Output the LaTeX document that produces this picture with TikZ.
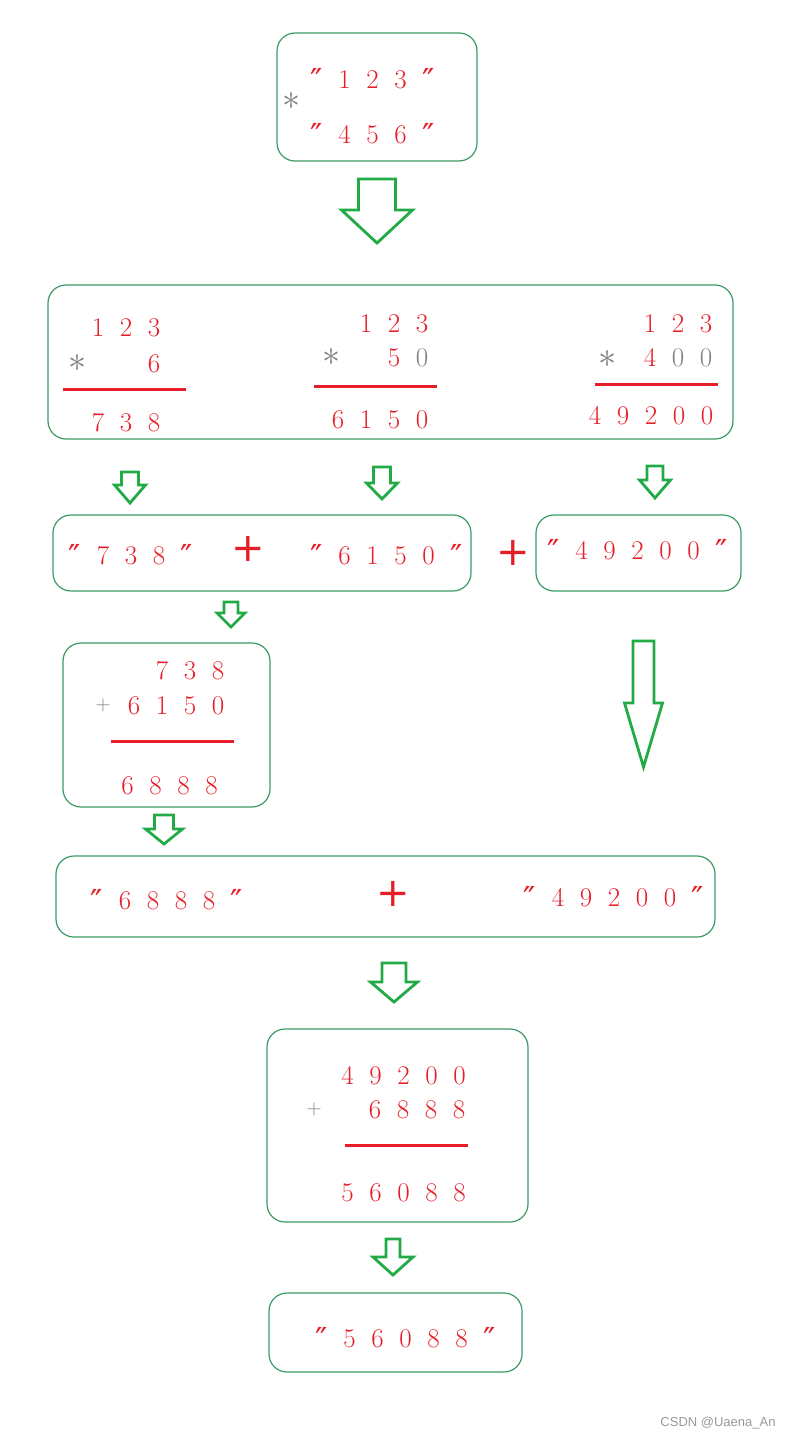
\documentclass[tikz,border=0pt]{standalone}
\usepackage{graphicx}
\usepackage{fontspec}
\newfontfamily\qfont{DejaVu Sans}
\newfontfamily\wmfont{Liberation Sans}
\definecolor{rd}{RGB}{230,30,40}
\definecolor{gr}{RGB}{34,170,70}
\definecolor{bx}{RGB}{60,155,100}
\definecolor{gy}{RGB}{128,128,128}
\newcommand\dcell[1]{\makebox[28pt]{#1}}
\newcommand\dquote{\dcell{\raisebox{-4pt}{\qfont\fontsize{33}{33}\selectfont ″}}}
\newcommand\gzero{\dcell{\color{gy}0}}
\newcommand\bigast{\scalebox{1.45}{$\ast$}}
\newcommand\blockarrow[6]{\draw[garrow] ({#1-#3/2},#2) -- ({#1+#3/2},#2) -- ({#1+#3/2},#5) -- ({#1+#4/2},#5) -- (#1,#6) -- ({#1-#4/2},#5) -- ({#1-#3/2},#5) -- cycle;}
\tikzset{
  box/.style={draw=bx, line width=1.2pt, rounded corners=18pt, inner sep=0pt},
  num/.style={text=rd, font=\fontsize{27}{30}\selectfont, inner sep=0pt, text height=18pt, text depth=0pt},
  star/.style={text=gy, font=\fontsize{24.88}{28}\selectfont, inner sep=0pt},
  gplus/.style={text=gy, font=\fontsize{22}{26}\selectfont, inner sep=0pt},
  rplus/.style={text=rd, font=\qfont\fontsize{40}{40}\selectfont, inner sep=0pt},
  rline/.style={draw=rd, line width=3pt},
  garrow/.style={draw=gr, line width=2.8pt, line join=miter},
  wm/.style={text=gy!80, font=\wmfont\fontsize{13}{15}\selectfont, inner sep=0pt}
}
\begin{document}
\begin{tikzpicture}[x=1pt,y=-1pt]
\useasboundingbox[fill=white] (0,0) rectangle (789,1439);

% boxes
\node[box, minimum width=200pt, minimum height=128pt] (b1) at (377,97) {};
\node[box, minimum width=685pt, minimum height=154pt] (b2) at (390.5,362) {};
\node[box, minimum width=418pt, minimum height=76pt] (b3) at (262,553) {};
\node[box, minimum width=205pt, minimum height=76pt] (b4) at (638.5,553) {};
\node[box, minimum width=207pt, minimum height=164pt] (b5) at (166.5,725) {};
\node[box, minimum width=659pt, minimum height=81pt] (b6) at (385.5,896.5) {};
\node[box, minimum width=261pt, minimum height=193pt] (b7) at (397.5,1125.5) {};
\node[box, minimum width=253pt, minimum height=79pt] (b8) at (395.5,1332.5) {};

% box 1
\node[num] (t1a) at (372.5,80) {\dquote\dcell1\dcell2\dcell3\dquote};
\node[num] (t1b) at (372.5,135) {\dquote\dcell4\dcell5\dcell6\dquote};
\node[star] (s1) at (292,101) {\bigast};

% box 2, column 1
\node[num] (c1a) at (126,327) {\dcell1\dcell2\dcell3};
\node[star] (c1s) at (78,363) {\bigast};
\node[num] (c1b) at (154,363) {\dcell6};
\draw[rline] (63,389) -- (186,389);
\node[num] (c1r) at (126,422) {\dcell7\dcell3\dcell8};
% column 2
\node[num] (c2a) at (394,323) {\dcell1\dcell2\dcell3};
\node[star] (c2s) at (332,357) {\bigast};
\node[num] (c2b) at (408,357) {\dcell5\gzero};
\draw[rline] (314,386) -- (437,386);
\node[num] (c2r) at (380,419) {\dcell6\dcell1\dcell5\dcell0};
% column 3
\node[num] (c3a) at (678,323) {\dcell1\dcell2\dcell3};
\node[star] (c3s) at (608,359) {\bigast};
\node[num] (c3b) at (678,357) {\dcell4\gzero\gzero};
\draw[rline] (595,384) -- (718,384);
\node[num] (c3r) at (651,415) {\dcell4\dcell9\dcell2\dcell0\dcell0};

% row of strings
\node[num] (r3a) at (131,555) {\dquote\dcell7\dcell3\dcell8\dquote};
\node[rplus] (p3a) at (248,549) {+};
\node[num] (r3b) at (386.5,555) {\dquote\dcell6\dcell1\dcell5\dcell0\dquote};
\node[rplus] (p3b) at (513,553) {+};
\node[num] (r4) at (637.5,550) {\dquote\dcell4\dcell9\dcell2\dcell0\dcell0\dquote};

% box 5
\node[num] (k1) at (190,670) {\dcell7\dcell3\dcell8};
\node[gplus] (kp) at (103,705) {$+$};
\node[num] (k2) at (176,705) {\dcell6\dcell1\dcell5\dcell0};
\draw[rline] (111,741) -- (234,741);
\node[num] (k3) at (169.5,785) {\dcell6\dcell8\dcell8\dcell8};

% box 6
\node[num] (m1) at (167,900) {\dquote\dcell6\dcell8\dcell8\dcell8\dquote};
\node[rplus] (mp) at (393,894) {+};
\node[num] (m2) at (614,897) {\dquote\dcell4\dcell9\dcell2\dcell0\dcell0\dquote};

% box 7
\node[num] (n1) at (403.5,1075) {\dcell4\dcell9\dcell2\dcell0\dcell0};
\node[gplus] (np) at (314,1109) {$+$};
\node[num] (n2) at (417,1109) {\dcell6\dcell8\dcell8\dcell8};
\draw[rline] (345,1145) -- (468,1145);
\node[num] (n3) at (403.5,1192) {\dcell5\dcell6\dcell0\dcell8\dcell8};

% box 8
\node[num] (f1) at (405.5,1338) {\dquote\dcell5\dcell6\dcell0\dcell8\dcell8\dquote};

% block arrows: cx, top, shaft width, head width, shaft bottom, tip
\blockarrow{377}{179}{37}{71}{210}{243}
\blockarrow{130}{472}{17}{31}{485}{503}
\blockarrow{382}{467}{17}{31}{483}{499}
\blockarrow{655}{466}{16}{31}{480}{498}
\blockarrow{231}{602}{14}{28}{613}{627}
\blockarrow{164}{815}{19}{37}{829}{844}
\blockarrow{643.5}{641}{21}{38}{703}{767}
\blockarrow{394}{963}{24}{47}{982}{1002}
\blockarrow{393}{1239}{14}{40}{1257}{1275}

% watermark
\node[wm] (wmk) at (718,1423) {CSDN @Uaena\_An};
\end{tikzpicture}
\end{document}
